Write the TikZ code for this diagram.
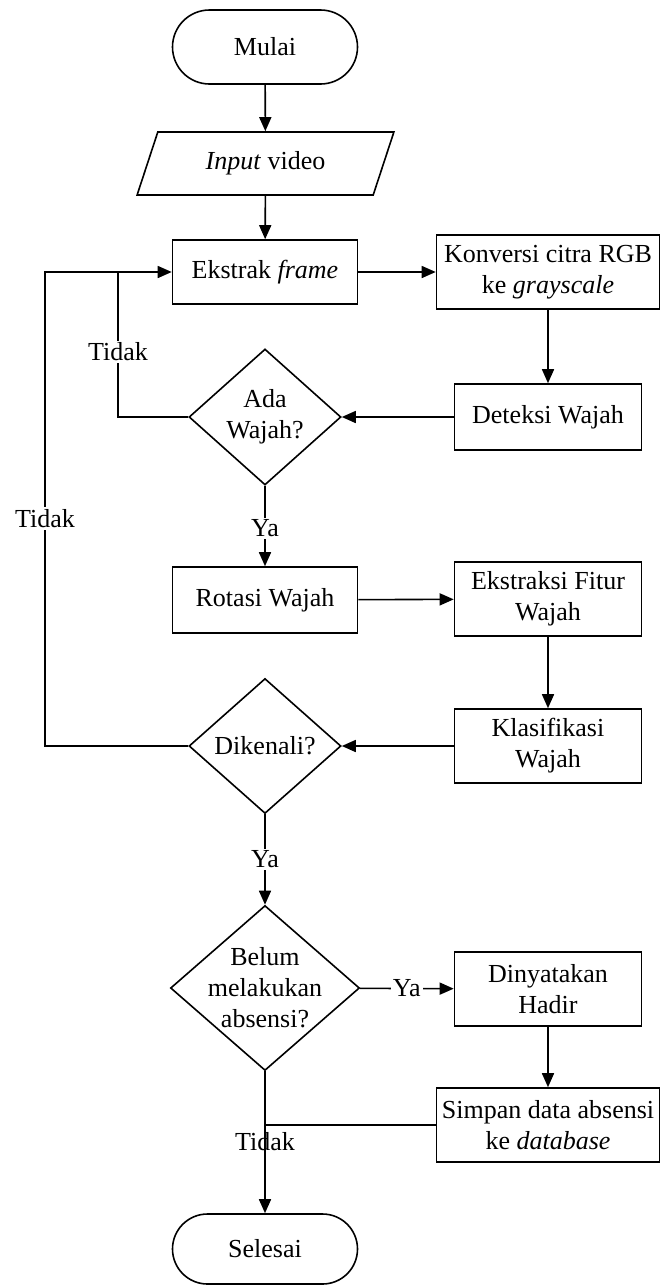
\documentclass[tikz,border=0pt]{standalone}
\usepackage{fontspec}
\setmainfont{Liberation Serif}
\usetikzlibrary{shapes.geometric,shapes.misc,arrows.meta}
\begin{document}
\begin{tikzpicture}[x=1pt,y=-1pt,
  every node/.style={font=\fontsize{26}{31}\selectfont, align=center, inner sep=0pt},
  conn/.style={line width=1.6pt},
  arr/.style={conn, -{Triangle[length=14pt,width=12pt]}},
  terminal/.style={draw, line width=1.6pt, rounded rectangle, minimum width=185pt, minimum height=74pt},
  process/.style={draw, line width=1.6pt, rectangle, minimum width=187pt, minimum height=74pt},
  wide/.style={process, minimum width=223pt},
  io/.style={draw, line width=1.6pt, trapezium, trapezium left angle=64, trapezium right angle=116,
    trapezium stretches=true, minimum width=257pt, minimum height=63pt},
  decision/.style={draw, line width=1.6pt, diamond},
  lbl/.style={fill=white, inner sep=2pt}
]
\useasboundingbox (0,0) rectangle (661,1285);

% main column
\node[terminal] (mulai) at (265,47) {Mulai};
\node[io] (input) at (265.5,163.5) {\textit{Input} video};
\node[process, minimum width=185pt, minimum height=64pt] (ekstrak) at (265,272) {Ekstrak \textit{frame}};
\node[decision, minimum width=152pt, minimum height=136pt,
  label={[align=center]center:Ada\\Wajah?}] (ada) at (265,417) {};
\node[process, minimum width=185pt, minimum height=66pt] (rotasi) at (265,600) {Rotasi Wajah};
\node[decision, minimum width=152pt, minimum height=135pt,
  label={center:Dikenali?}] (dikenali) at (265,746) {};
\node[decision, minimum width=189pt, minimum height=165pt,
  label={[align=center]center:Belum\\melakukan\\absensi?}] (belum) at (265,988) {};
\node[terminal, minimum height=70pt] (selesai) at (265,1249) {Selesai};

% right column
\node[wide] (konversi) at (548,272) {Konversi citra RGB\\ke \textit{grayscale}};
\node[process, minimum height=66pt] (deteksi) at (548,417) {Deteksi Wajah};
\node[process] (fitur) at (548,599) {Ekstraksi Fitur\\Wajah};
\node[process] (klas) at (548,746) {Klasifikasi\\Wajah};
\node[process] (hadir) at (548,989) {Dinyatakan\\Hadir};
\node[wide] (simpan) at (548,1125) {Simpan data absensi\\ke \textit{database}};

% loop-back points
\coordinate (innerTop) at (118,272);
\coordinate (innerBot) at (118,417);
\coordinate (outerTop) at (45,272);
\coordinate (outerBot) at (45,746);
\coordinate (join) at (265,1125);

% connectors
\draw[arr] (mulai) -- (input);
\draw[arr] (input) -- (ekstrak);
\draw[arr] (ekstrak) -- (konversi);
\draw[arr] (konversi) -- (deteksi);
\draw[arr] (deteksi) -- (ada);
\draw[conn] (ada.west) -- (innerBot) -- node[lbl, pos=0.45] {Tidak} (innerTop);
\draw[arr] (dikenali.west) -- (outerBot) -- node[lbl, pos=0.48] {Tidak} (outerTop) -- (ekstrak.west);
\draw[arr] (ada) -- node[lbl, pos=0.53] {Ya} (rotasi);
\draw[arr] (rotasi) -- (fitur);
\draw[arr] (fitur) -- (klas);
\draw[arr] (klas) -- (dikenali);
\draw[arr] (dikenali) -- node[lbl, pos=0.5] {Ya} (belum);
\draw[arr] (belum) -- node[lbl, pos=0.5] {Ya} (hadir);
\draw[arr] (hadir) -- (simpan);
\draw[conn] (simpan.west) -- (join);
\draw[arr] (belum) -- (selesai);
\node (tidak3) at (265,1142) {Tidak};
\end{tikzpicture}
\end{document}
